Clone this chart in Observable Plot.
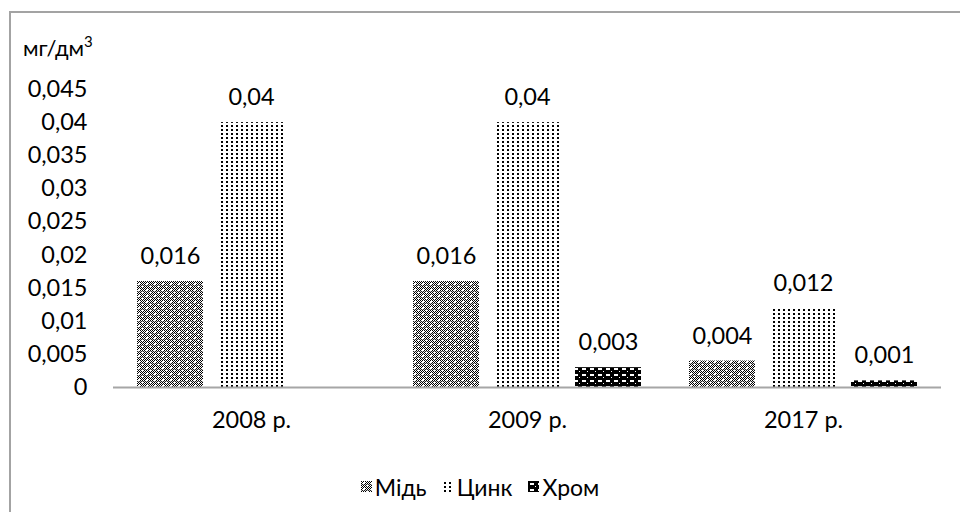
<!DOCTYPE html>
<html>
<head>
<meta charset="utf-8">
<script src="https://cdn.jsdelivr.net/npm/d3@7"></script>
<script src="https://cdn.jsdelivr.net/npm/@observablehq/plot@0.6"></script>
<style>
  html, body { margin: 0; padding: 0; background: #fff; overflow: hidden; }
  body { width: 960px; height: 512px; position: relative; font-family: Lato, sans-serif; color: #000; }
  #frame { position: absolute; left: 9px; top: 11px; width: 1000px; height: 600px; border: 2px solid #a3a3a3; box-sizing: border-box; }
  #chart { position: absolute; left: 0; top: 0; }
  #unit { position: absolute; left: 23px; top: 37px; font-size: 22px; line-height: 1; }
  #unit sup { font-size: 15px; vertical-align: 9px; line-height: 0; }
  #legend { position: absolute; left: 0; width: 960px; top: 469px; text-align: center; font-size: 23px; line-height: 28px; }
  .item { display: inline-flex; align-items: center; margin: 0 8px; }
  .item svg { margin-right: 3px; }
</style>
</head>
<body>
<svg width="0" height="0" style="position:absolute">
  <defs id="pdefs"></defs>
</svg>
<div id="frame"></div>
<div id="chart"></div>
<div id="unit">мг/дм<sup>3</sup></div>
<div id="legend"></div>
<script>
// ---- data ----
const years = ["2008 р.", "2009 р.", "2017 р."];
const metals = ["Мідь", "Цинк", "Хром"];
const copper = [0.016, 0.016, 0.004];
const zinc = [0.04, 0.04, 0.012];
const chromium = [null, 0.003, 0.001];
const yTicks = [0, 0.005, 0.01, 0.015, 0.02, 0.025, 0.03, 0.035, 0.04, 0.045];

const series = {"Мідь": copper, "Цинк": zinc, "Хром": chromium};
const data = years.flatMap((year, i) =>
  metals.map(metal => ({year, metal, value: series[metal][i]}))
).filter(d => d.value != null);

const fmt = v => String(v).replace(".", ",");

// ---- patterns ----
const defs = d3.select("#pdefs");
// Мідь: dense checker with white holes
{
  const p = defs.append("pattern").attr("id", "pMid").attr("patternUnits", "userSpaceOnUse")
    .attr("width", 8).attr("height", 6);
  p.append("rect").attr("width", 8).attr("height", 6).attr("fill", "#fff");
  for (let y = 0; y < 6; y++) for (let x = 0; x < 8; x++) {
    if ((x + y) % 2 === 0) p.append("rect").attr("x", x).attr("y", y).attr("width", 1).attr("height", 1).attr("fill", "#000");
  }
  p.append("rect").attr("x", 2).attr("y", 1).attr("width", 2).attr("height", 2).attr("fill", "#fff");
  p.append("rect").attr("x", 6).attr("y", 4).attr("width", 2).attr("height", 1).attr("fill", "#fff");
  p.append("rect").attr("x", 0).attr("y", 3).attr("width", 8).attr("height", 1).attr("fill", "#555").attr("opacity", 0.35);
}
// Цинк: sparse dots
{
  const p = defs.append("pattern").attr("id", "pZn").attr("patternUnits", "userSpaceOnUse")
    .attr("width", 5).attr("height", 4);
  p.append("rect").attr("width", 5).attr("height", 4).attr("fill", "#fff");
  p.append("rect").attr("x", 1).attr("y", 1).attr("width", 2).attr("height", 2).attr("fill", "#000");
}
// Хром: black with white dashes
{
  const p = defs.append("pattern").attr("id", "pCr").attr("patternUnits", "userSpaceOnUse")
    .attr("width", 8).attr("height", 6);
  p.append("rect").attr("width", 8).attr("height", 6).attr("fill", "#000");
  p.append("rect").attr("x", 2).attr("y", 2).attr("width", 4).attr("height", 2).attr("fill", "#fff");
  p.append("rect").attr("x", 7).attr("y", 5).attr("width", 1).attr("height", 1).attr("fill", "#fff");
}
const fills = {"Мідь": "url(#pMid)", "Цинк": "url(#pZn)", "Хром": "url(#pCr)"};

// ---- plot ----
const chart = Plot.plot({
  width: 960,
  height: 440,
  marginLeft: 113,
  marginRight: 19,
  marginTop: 89,
  marginBottom: 53,
  style: {fontFamily: "Lato, sans-serif", fontSize: "23.5px", color: "#000", background: "transparent"},
  fx: {domain: years, padding: 0, label: null, tickSize: 0, tickPadding: 24},
  x: {domain: metals, paddingInner: 0.185, paddingOuter: 0.296, axis: null},
  y: {domain: [0, 0.045], ticks: yTicks, tickFormat: fmt, tickSize: 0, tickPadding: 26, label: null},
  marks: [
    ...metals.map(m => Plot.barY(data.filter(d => d.metal === m), {
      fx: "year", x: "metal", y: "value", fill: fills[m]
    })),
    Plot.ruleY([0], {stroke: "#a6a6a6", strokeWidth: 2}),
    Plot.text(data, {fx: "year", x: "metal", y: "value", text: d => fmt(d.value), dy: -25, fill: "#000"})
  ]
});
document.getElementById("chart").appendChild(chart);

// ---- legend ----
const legend = d3.select("#legend");
metals.forEach(m => {
  const item = legend.append("span").attr("class", "item");
  const s = item.append("svg").attr("width", 11).attr("height", 11);
  s.append("rect").attr("width", 11).attr("height", 11).attr("fill", fills[m]);
  item.append("span").text(m);
});
</script>
</body>
</html>
